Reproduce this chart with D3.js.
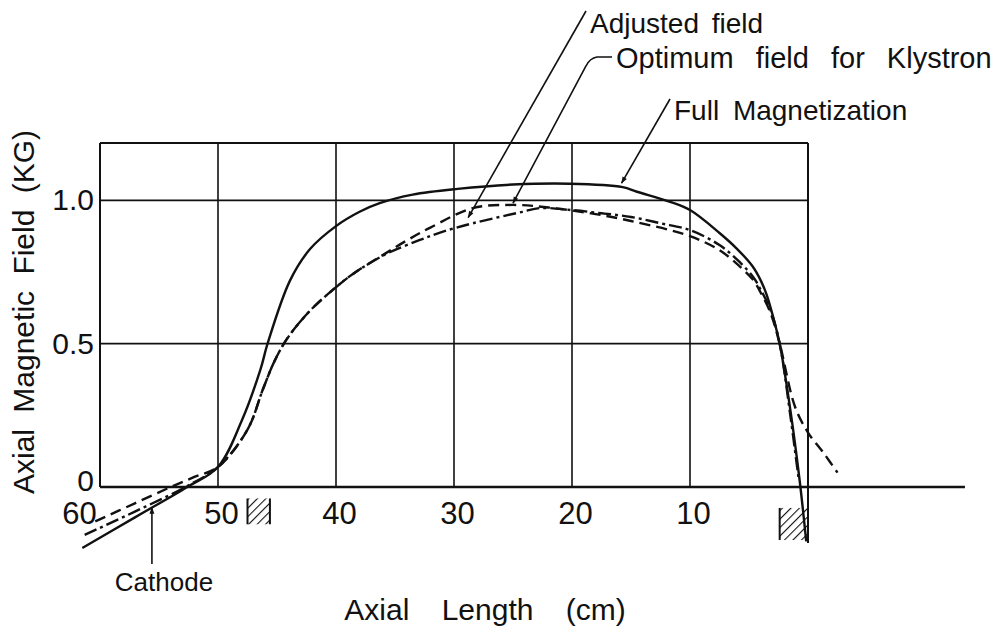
<!DOCTYPE html>
<html>
<head>
<meta charset="utf-8">
<script src="https://cdn.jsdelivr.net/npm/d3@7"></script>
<style>
  html, body { margin: 0; padding: 0; background: #fff; }
  svg { display: block; }
  text { font-family: "Liberation Sans", Arial, sans-serif; fill: #111; }
</style>
</head>
<body>
<svg id="chart" width="996" height="633"></svg>
<script>
// Axial field profiles along the tube (distance in cm, field in kG)
const fullCm = [61.5, 57, 52.6, 50, 48, 46.4, 45.8, 43.9, 42.2, 40, 38, 36.3, 33.5, 29.7, 25, 20.2, 15.7, 14.5, 11.7, 10, 7.5, 6, 4.7, 4.0, 3.5, 3.0, 2.4, 1.5, 0.7, 0.15];
const fullKG = [-0.213, -0.105, 0.0, 0.07, 0.23, 0.41, 0.50, 0.72, 0.83, 0.91, 0.96, 0.99, 1.02, 1.04, 1.055, 1.058, 1.046, 1.03, 0.995, 0.966, 0.886, 0.83, 0.77, 0.72, 0.67, 0.60, 0.50, 0.27, 0.02, -0.19];

const optimumCm = [60.4, 57, 54, 52, 50, 47.5, 46.2, 45.2, 44.1, 42.2, 40.2, 38.6, 35.8, 34, 32, 28.4, 25, 22, 18, 15, 10, 7.5, 5.8, 4.6, 4.1, 3.2, 2.4, 1.1, 0, -1.3, -2.5];
const optimumKG = [-0.12, -0.056, 0.0, 0.035, 0.07, 0.2, 0.34, 0.44, 0.52, 0.615, 0.69, 0.742, 0.815, 0.86, 0.905, 0.973, 0.984, 0.975, 0.952, 0.928, 0.875, 0.826, 0.77, 0.72, 0.685, 0.61, 0.50, 0.28, 0.19, 0.12, 0.05];

const adjustedCm = [61.3, 57, 53, 50, 47.5, 46.2, 45.2, 44.1, 42.2, 40.2, 38.6, 35.8, 33, 31, 28.4, 24.2, 22.7, 20, 17.5, 15, 12.5, 10, 7.5, 5.8, 4.6, 4.1, 3.2, 2.4, 1.5, 0.8];
const adjustedKG = [-0.167, -0.085, -0.005, 0.07, 0.2, 0.34, 0.44, 0.52, 0.615, 0.69, 0.742, 0.812, 0.86, 0.89, 0.92, 0.96, 0.973, 0.966, 0.955, 0.942, 0.92, 0.896, 0.844, 0.785, 0.73, 0.695, 0.62, 0.50, 0.25, 0.03];

// Axis ticks
const xTicks = [60, 50, 40, 30, 20, 10];
const gridCm = [50, 40, 30, 20, 10];
const yTicks = [0, 0.5, 1.0];
const yTickLabels = ["0", "0.5", "1.0"];
const gridKG = [0.5, 1.0];

// Pole pieces (cm span, kG span)
const poleCm = [[47.5, 45.6], [2.4, 0.0]];
const poleKG = [[-0.04, -0.13], [-0.073, -0.185]];

// Annotation texts and the point on the curve each one refers to
const noteLabels = ["Adjusted field", "Optimum field for Klystron", "Full Magnetization"];
const noteTipCm = [28.8, 25.0, 15.8];
const noteTipKG = [0.94, 0.99, 1.06];
const cathodeLabel = "Cathode";
const cathodeTipCm = 55.6;

const svg = d3.select("#chart");

const x = d3.scaleLinear().domain([60, 0]).range([100, 808]);
const y = d3.scaleLinear().domain([0, 1.2]).range([487, 143]);

// Defs: arrowhead and hatch pattern
const defs = svg.append("defs");
defs.append("marker")
  .attr("id", "arrow")
  .attr("viewBox", "0 0 10 10")
  .attr("refX", 9).attr("refY", 5)
  .attr("markerWidth", 9).attr("markerHeight", 7)
  .attr("markerUnits", "userSpaceOnUse")
  .attr("orient", "auto")
  .append("path").attr("d", "M0,1.5 L10,5 L0,8.5 Z").attr("fill", "#111");

const pat = defs.append("pattern")
  .attr("id", "hatch")
  .attr("patternUnits", "userSpaceOnUse")
  .attr("width", 6).attr("height", 6)
  .attr("patternTransform", "rotate(45)");
pat.append("line").attr("x1", 0).attr("y1", 0).attr("x2", 0).attr("y2", 6)
  .attr("stroke", "#111").attr("stroke-width", 2.2);

const ink = "#111";

// Grid
const g = svg.append("g");
g.selectAll("line.vgrid").data(gridCm).join("line")
  .attr("x1", d => x(d)).attr("x2", d => x(d))
  .attr("y1", y(1.2)).attr("y2", y(0))
  .attr("stroke", ink).attr("stroke-width", 1.6);
g.selectAll("line.hgrid").data(gridKG).join("line")
  .attr("x1", x(60)).attr("x2", x(0))
  .attr("y1", d => y(d)).attr("y2", d => y(d))
  .attr("stroke", ink).attr("stroke-width", 1.8);

// Frame
g.append("line").attr("x1", x(60)).attr("x2", x(0)).attr("y1", y(1.2)).attr("y2", y(1.2))
  .attr("stroke", ink).attr("stroke-width", 2);
g.append("line").attr("x1", x(60)).attr("x2", x(60)).attr("y1", y(1.2)).attr("y2", y(0))
  .attr("stroke", ink).attr("stroke-width", 2);
g.append("line").attr("x1", x(0)).attr("x2", x(0)).attr("y1", y(1.2)).attr("y2", y(-0.195))
  .attr("stroke", ink).attr("stroke-width", 2);

// X axis
const xAxis = d3.axisBottom(x).tickValues(xTicks).tickSize(0).tickPadding(15);
const xg = svg.append("g").attr("transform", `translate(0,${y(0)})`).call(xAxis);
xg.select(".domain").remove();
xg.selectAll("text").style("font-size", "31px").attr("dx", d => d === 60 ? -21 : 3);
svg.append("line").attr("x1", x(60)).attr("x2", x(-13.3)).attr("y1", y(0)).attr("y2", y(0))
  .attr("stroke", ink).attr("stroke-width", 2.4);

// Y axis
const yAxis = d3.axisLeft(y).tickValues(yTicks).tickSize(0).tickPadding(6)
  .tickFormat((d, i) => yTickLabels[i]);
const yg = svg.append("g").attr("transform", `translate(${x(60)},0)`).call(yAxis);
yg.select(".domain").remove();
yg.selectAll("text").style("font-size", "30px").attr("dy", d => d === 0 ? "0.1em" : "0.32em");

// Axis titles
svg.append("text")
  .attr("x", 485).attr("y", 620)
  .attr("text-anchor", "middle")
  .style("font-size", "30px").style("word-spacing", "24px")
  .text("Axial Length (cm)");
svg.append("text")
  .attr("transform", "translate(34,312) rotate(-90)")
  .attr("text-anchor", "middle")
  .style("font-size", "30px").style("word-spacing", "8px")
  .text("Axial Magnetic Field (KG)");

// Pole pieces
poleCm.forEach((c, i) => {
  const x0 = x(c[0]), x1 = x(c[1]);
  const y0 = y(poleKG[i][0]), y1 = y(poleKG[i][1]);
  svg.append("rect").attr("x", x0).attr("y", y0).attr("width", x1 - x0).attr("height", y1 - y0)
    .attr("fill", "url(#hatch)");
  svg.append("line").attr("x1", x0).attr("x2", x0).attr("y1", y0).attr("y2", y1)
    .attr("stroke", ink).attr("stroke-width", 2);
  svg.append("line").attr("x1", x1).attr("x2", x1).attr("y1", y0).attr("y2", y1)
    .attr("stroke", ink).attr("stroke-width", 2);
});

// Field curves
const line = d3.line().x(d => x(d[0])).y(d => y(d[1])).curve(d3.curveCatmullRom.alpha(0.5));
const series = [
  { cm: fullCm, kg: fullKG, dash: null },
  { cm: optimumCm, kg: optimumKG, dash: "11,6" },
  { cm: adjustedCm, kg: adjustedKG, dash: "13,4,3,4" }
];
svg.selectAll("path.curve").data(series).join("path")
  .attr("class", "curve")
  .attr("d", s => line(s.cm.map((c, i) => [c, s.kg[i]])))
  .attr("fill", "none")
  .attr("stroke", ink)
  .attr("stroke-width", 2.4)
  .attr("stroke-dasharray", s => s.dash);

// Annotations with leader lines
const noteText = [
  { tx: 590, ty: 33, size: 28, ws: 5, path: (tx, ty) => `M586,11 L${tx},${ty}` },
  { tx: 616, ty: 68, size: 29, ws: 14, path: (tx, ty) => `M612,57 L597,57 Q590,58 586,66 L${tx},${ty}` },
  { tx: 674, ty: 120, size: 28, ws: 6, path: (tx, ty) => `M670,99 L${tx},${ty}` }
];
noteLabels.forEach((label, i) => {
  const tipX = x(noteTipCm[i]), tipY = y(noteTipKG[i]);
  svg.append("path")
    .attr("d", noteText[i].path(tipX, tipY))
    .attr("fill", "none").attr("stroke", ink).attr("stroke-width", 1.6)
    .attr("marker-end", "url(#arrow)");
  svg.append("text")
    .attr("x", noteText[i].tx).attr("y", noteText[i].ty)
    .style("font-size", noteText[i].size + "px").style("word-spacing", noteText[i].ws + "px")
    .text(label);
});

// Cathode marker
const cathodeIdx = fullCm.findIndex(c => c < cathodeTipCm);
const t = (fullCm[cathodeIdx - 1] - cathodeTipCm) / (fullCm[cathodeIdx - 1] - fullCm[cathodeIdx]);
const cathodeKG = fullKG[cathodeIdx - 1] + t * (fullKG[cathodeIdx] - fullKG[cathodeIdx - 1]);
svg.append("line")
  .attr("x1", x(cathodeTipCm)).attr("x2", x(cathodeTipCm))
  .attr("y1", 564).attr("y2", y(cathodeKG))
  .attr("stroke", ink).attr("stroke-width", 1.6)
  .attr("marker-end", "url(#arrow)");
svg.append("text")
  .attr("x", 164).attr("y", 591)
  .attr("text-anchor", "middle")
  .style("font-size", "26px")
  .text(cathodeLabel);
</script>
</body>
</html>
